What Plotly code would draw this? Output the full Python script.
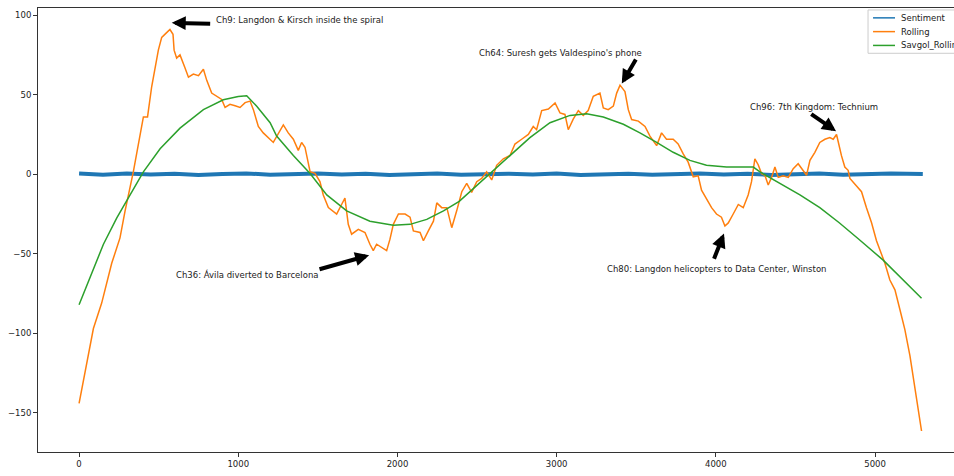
import plotly.graph_objects as go

# sentiment scores (thin noisy band around zero)
sent_x = [0, 150, 300, 450, 600, 750, 900, 1050, 1200, 1350, 1500, 1650, 1800, 1950,
          2100, 2250, 2400, 2550, 2700, 2850, 3000, 3150, 3300, 3450, 3600, 3750,
          3900, 4050, 4200, 4350, 4500, 4650, 4800, 4950, 5100, 5300]
sent_y = [0.4, -0.3, 0.5, -0.2, 0.3, -0.4, 0.2, 0.5, -0.3, 0.1, 0.4, -0.2, 0.3, -0.5,
          0.2, 0.4, -0.3, 0.1, 0.3, -0.2, 0.4, -0.4, 0.2, 0.3, -0.3, 0.1, 0.4, -0.2,
          0.3, -0.4, 0.2, 0.5, -0.3, 0.2, 0.4, 0.1]

# rolling sentiment
roll_x = [0, 38, 90, 142, 205, 257, 289, 341, 383, 404, 430, 456, 498, 519, 550, 571,
          590, 597, 613, 634, 665, 687, 718, 750, 781, 802, 833, 865, 896, 917, 948,
          980, 1011, 1043, 1074, 1095, 1126, 1157, 1195, 1220, 1283, 1314, 1346, 1377,
          1398, 1419, 1451, 1482, 1513, 1534, 1566, 1618, 1649, 1670, 1691, 1712, 1754,
          1796, 1827, 1848, 1869, 1900, 1932, 1953, 1974, 2006, 2048, 2079, 2100, 2142,
          2163, 2194, 2226, 2247, 2278, 2310, 2341, 2372, 2404, 2435, 2466, 2498, 2529,
          2560, 2592, 2623, 2665, 2707, 2738, 2780, 2822, 2853, 2874, 2906, 2948, 2990,
          3021, 3052, 3073, 3104, 3136, 3167, 3198, 3230, 3272, 3293, 3324, 3356, 3377,
          3398, 3429, 3450, 3471, 3513, 3555, 3586, 3628, 3659, 3690, 3732, 3763, 3795,
          3826, 3858, 3889, 3910, 3941, 3973, 4004, 4035, 4057, 4078, 4109, 4141, 4172,
          4203, 4224, 4245, 4266, 4287, 4308, 4329, 4350, 4371, 4392, 4423, 4455, 4486,
          4517, 4549, 4570, 4591, 4622, 4653, 4685, 4716, 4737, 4758, 4768, 4789, 4810,
          4831, 4842, 4884, 4915, 4946, 4978, 5009, 5041, 5062, 5093, 5125, 5156, 5187,
          5219, 5250, 5271, 5292]
roll_y = [-144, -124.5, -97, -81, -56, -40, -23, 1.6, 26, 36, 36, 55, 78, 86, 89, 91,
          88, 78, 73, 75, 67, 61, 63, 62, 66, 59, 51, 49, 47, 42, 44,
          43, 42, 45, 46, 40.6, 30, 26, 22, 20, 31, 26, 22, 15,
          20, 17, 1.6, 0.6, -4.6, -13, -21, -25, -19, -15, -31.5, -37.7, -34.6,
          -36.6, -44, -48, -44, -46, -48, -40.8, -31.5, -25, -25, -27, -35.6, -36.6,
          -41.8, -35.6, -29.5, -18, -21, -21, -33.6, -23, -11, -5.7, -11.4, -4.7, -2.6,
          1.5, -3.6, 5.6, 9.7, 11.8, 19, 22, 25, 30, 28, 40, 41, 44.8,
          38.6, 37.6, 28, 34.6, 40, 37, 40, 49, 51, 41.7, 40.6, 42.8, 51,
          56, 52, 40.6, 34.4, 33.4, 30, 24, 18, 26, 22, 22, 19, 12.8,
          7.6, -1.6, -1, -10, -15, -21, -25, -27, -32.5, -30.6, -25, -19, -21,
          -13, -4.7, 9.7, 6, 0.4, -0.6, -6.8, -2, 4.6, -2, -1, -2, 3.5,
          6.6, 2.5, -0.6, 8.7, 13.8, 20, 22, 23, 22, 25, 20, 11.7, 4.5,
          2.5, -2.6, -7.8, -11, -21, -30.5, -41.8, -50, -56, -66.5, -72.7, -85, -97.5,
          -114, -134.6, -149, -161.4]

# savgol smoothed rolling
sav_x = [0, 69, 153, 237, 320, 404, 509, 634, 781, 906, 1000, 1053, 1116, 1200, 1241,
         1346, 1451, 1556, 1681, 1827, 1974, 2079, 2184, 2289, 2388, 2455, 2581, 2707,
         2832, 2958, 3084, 3188, 3293, 3419, 3523, 3628, 3732, 3837, 3941, 4067, 4235,
         4277, 4402, 4528, 4653, 4775, 4900, 5051, 5292]
sav_y = [-82, -64.5, -44, -27.4, -13, 1.5, 16, 29, 40.6, 46.8, 48.8, 49.3, 42.7, 32.4, 24,
         11.8, 0.4, -13, -23, -29.5, -32, -31.5, -28.4, -23, -17, -11, 0.4, 11.8,
         23, 32.4, 37, 38, 36, 31.4, 26, 20, 13.8, 8.7, 5.6, 4.5, 4.5,
         1.5, -5.7, -13, -21, -30.5, -41, -54, -78]

series_names = ["Sentiment", "Rolling", "Savgol_Rolling"]
series_colors = ["#1f77b4", "#ff7f0e", "#2ca02c"]

# chapter annotations: label, text anchor (x, y), arrow tail, arrow tip
labels = ["Ch9: Langdon & Kirsch inside the spiral",
          "Ch64: Suresh gets Valdespino's phone",
          "Ch96: 7th Kingdom: Technium",
          "Ch36: Ávila diverted to Barcelona",
          "Ch80: Langdon helicopters to Data Center, Winston"]
label_x = [848, 2500, 4202, 599, 3304]
label_y = [96.8, 76.5, 42.5, -63.3, -59.8]
tail_x = [833, 3503, 4590, 1501, 3985]
tail_y = [94.6, 73, 38.5, -60, -54]
tip_x = [582, 3409, 4755, 1822, 4051]
tip_y = [95.2, 57, 27, -50.9, -37.3]

fig = go.Figure()
fig.add_trace(go.Scatter(x=sent_x, y=sent_y, mode="lines", name=series_names[0],
                         line=dict(color=series_colors[0], width=4)))
fig.add_trace(go.Scatter(x=roll_x, y=roll_y, mode="lines", name=series_names[1],
                         line=dict(color=series_colors[1], width=1.5)))
fig.add_trace(go.Scatter(x=sav_x, y=sav_y, mode="lines", name=series_names[2],
                         line=dict(color=series_colors[2], width=1.5)))

for i in range(len(labels)):
    fig.add_annotation(x=tip_x[i], y=tip_y[i], ax=tail_x[i], ay=tail_y[i],
                       axref="x", ayref="y", text="", showarrow=True,
                       arrowhead=2, arrowsize=0.7, arrowwidth=4, arrowcolor="black")
    fig.add_annotation(x=label_x[i], y=label_y[i], text=labels[i], showarrow=False,
                       xanchor="left", yanchor="middle",
                       font=dict(size=8.5, color="#222222"))

# matplotlib-like compact legend box in the top right corner (paper coords)
fig.add_shape(type="rect", xref="paper", yref="paper", x0=0.8954, x1=1.02,
              y0=0.898, y1=0.9956, line=dict(color="#cccccc", width=1),
              fillcolor="rgba(255,255,255,0.8)")
leg_y = [0.9778, 0.9468, 0.9157]
for i in range(len(series_names)):
    fig.add_shape(type="line", xref="paper", yref="paper", x0=0.9008, x1=0.9245,
                  y0=leg_y[i], y1=leg_y[i], line=dict(color=series_colors[i], width=1.5))
    fig.add_annotation(x=0.9288, y=leg_y[i], xref="paper", yref="paper",
                       text=series_names[i], showarrow=False, xanchor="left",
                       yanchor="middle", font=dict(size=8.5, color="#222222"))

axis_style = dict(showgrid=False, zeroline=False, showline=True, linecolor="#333333",
                  linewidth=1, ticks="outside", ticklen=4, tickcolor="#333333",
                  mirror=True, tickfont=dict(size=8.5, color="#222222"))

# the original figure is wider than the window, its right side is cut off
fig.update_layout(
    width=1005, height=476,
    margin=dict(l=38, r=40, t=7, b=18),
    paper_bgcolor="white", plot_bgcolor="white",
    font=dict(family="DejaVu Sans"),
    showlegend=False,
    xaxis=dict(range=[-258, 5565], tickvals=[0, 1000, 2000, 3000, 4000, 5000],
               **axis_style),
    yaxis=dict(range=[-174.6, 104.5], tickvals=[-150, -100, -50, 0, 50, 100],
               **axis_style),
)

fig.write_html("out.html", config={"displayModeBar": False},
               post_script="document.body.style.margin='0';"
                           "document.body.style.overflow='hidden';")
